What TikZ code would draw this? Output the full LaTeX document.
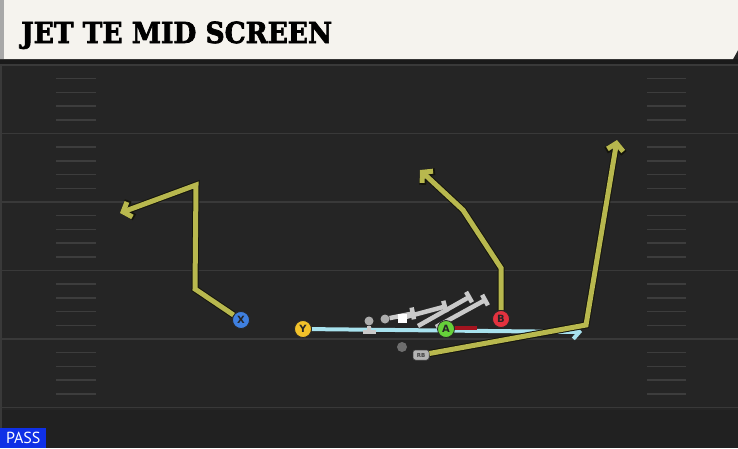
\documentclass[tikz,border=0pt]{standalone}
\usepackage{fontspec}
\setmainfont{DejaVu Sans}
\newfontfamily\titlefont[BoldFeatures={FakeBold=2.5}]{DejaVu Serif}
\newfontfamily\passfont{PT Sans}
\usetikzlibrary{arrows.meta}
\pgfdeclarelayer{bg}
\pgfdeclarelayer{routes}
\pgfsetlayers{bg,routes,main}
\definecolor{fieldbg}{HTML}{252525}
\definecolor{headerbg}{HTML}{F5F3EE}
\definecolor{headerside}{HTML}{A8A8A8}
\definecolor{shadowc}{HTML}{1A1A1A}
\definecolor{yardc}{HTML}{393939}
\definecolor{hashc}{HTML}{3D3D3D}
\definecolor{routec}{HTML}{B8B84E}
\definecolor{routeo}{HTML}{15150C}
\definecolor{cyanc}{HTML}{A8E2EE}
\definecolor{redc}{HTML}{A3141F}
\definecolor{blockc}{HTML}{CACACA}
\definecolor{xblue}{HTML}{3F80E0}
\definecolor{yyellow}{HTML}{F2C22A}
\definecolor{agreen}{HTML}{66D03A}
\definecolor{bred}{HTML}{E3323F}
\definecolor{passblue}{HTML}{0F30E6}
\definecolor{darkdot}{HTML}{6E6E6E}
\definecolor{rbgray}{HTML}{B4B4B4}
\tikzset{
  player/.style={circle, minimum size=17pt, inner sep=0pt, draw=black!85, line width=0.8pt,
    font=\bfseries\fontsize{10}{10}\selectfont, text=black!85},
  route/.style={draw=routec, line width=5pt, line join=miter,
    -{Straight Barb[length=7pt,width=16pt]},
    preaction={draw=routeo, line width=7pt, -{Straight Barb[length=7.5pt,width=18pt]}}},
  cyanroute/.style={draw=cyanc, line width=4pt, -{Straight Barb[length=6pt,width=14pt]}},
  redline/.style={draw=redc, line width=4pt},
  blockline/.style={draw=blockc, line width=4.5pt, -{Bar[width=12pt]}},
  lineman/.style={circle, fill=blockc!85!black, minimum size=9pt, inner sep=0pt},
  snapbox/.style={rectangle, fill=white, minimum size=9pt, inner sep=0pt},
  yard/.style={draw=yardc, line width=1.8pt},
  hash/.style={draw=hashc, line width=1.5pt},
}
\begin{document}
\begin{tikzpicture}[x=1pt,y=-1pt]
\useasboundingbox (0,0) rectangle (738,448);
\begin{pgfonlayer}{bg}
  \fill[fieldbg] (0,0) rectangle (738,448);
  \fill[fieldbg!88!black] (0,410) rectangle (738,448);
  \fill[yardc] (0,59) rectangle (2,448);
  \foreach \yy in {65,133.5,202,270.5,339,407.5} \draw[yard] (0,\yy) -- (738,\yy);
  \foreach \b in {65,133.5,202,270.5,339} {
    \foreach \k in {1,2,3,4} {
      \draw[hash] (56,{\b+13.7*\k}) -- (96,{\b+13.7*\k});
      \draw[hash] (647,{\b+13.7*\k}) -- (686,{\b+13.7*\k});
    }
  }
  \fill[shadowc] (0,59) rectangle (738,64);
  \fill[headerbg] (0,0) -- (738,0) -- (738,50) -- (733,59) -- (0,59) -- cycle;
  \fill[headerside] (0,0) rectangle (4,59);
\end{pgfonlayer}

\node[anchor=base west, inner sep=0pt] (title) at (21,43)
  {\resizebox{311pt}{21.5pt}{\titlefont\bfseries JET TE MID SCREEN}};

\node[player, fill=xblue] (X) at (241,320) {X};
\node[player, fill=yyellow] (Y) at (303,329) {Y};
\node[player, fill=agreen] (A) at (446,329) {A};
\node[player, fill=bred] (B) at (501,319) {B};
\node[rectangle, rounded corners=2.5pt, fill=rbgray, draw=black!70, line width=0.5pt,
  minimum width=16pt, minimum height=10pt, inner sep=0pt,
  font=\bfseries\fontsize{5.5}{5.5}\selectfont, text=black!75] (RB) at (421,355) {RB};
\node[circle, fill=darkdot, minimum size=10pt, inner sep=0pt] (QB) at (402,347) {};
\node[lineman] (TE) at (369,321) {};
\node[lineman] (LT) at (385,319) {};
\node[snapbox] (C) at (402,318) {};
\coordinate (G1) at (418,326);
\coordinate (G2) at (436,327);
\coordinate (TEb) at (369,334);

\begin{pgfonlayer}{routes}
  \draw[cyanroute] (Y) -- (582,332);
  \draw[blockline, line width=4pt, -{Bar[width=13pt]}] (TE) -- (TEb);
  \draw[blockline] (LT) -- (415,313);
  \draw[blockline] (C) -- (447,306);
  \draw[blockline] (G1) -- (471,296);
  \draw[blockline] (G2) -- (487,299);
  \draw[redline] ([yshift=1.5pt]A.east) -- ++(22,0);
  \draw[route] (X) -- (195,289) -- (196,185) -- (120,213);
  \draw[route] (B) -- (501,268) -- (463,210) -- (420,170);
  \draw[route] (RB) -- (586,325) -- (617,140);
\end{pgfonlayer}

\node[anchor=south west, fill=passblue, minimum width=46pt, minimum height=20pt, inner sep=0pt,
  font=\passfont\fontsize{16}{16}\selectfont, text=white] (pass) at (0,448) {PASS};
\end{tikzpicture}
\end{document}
